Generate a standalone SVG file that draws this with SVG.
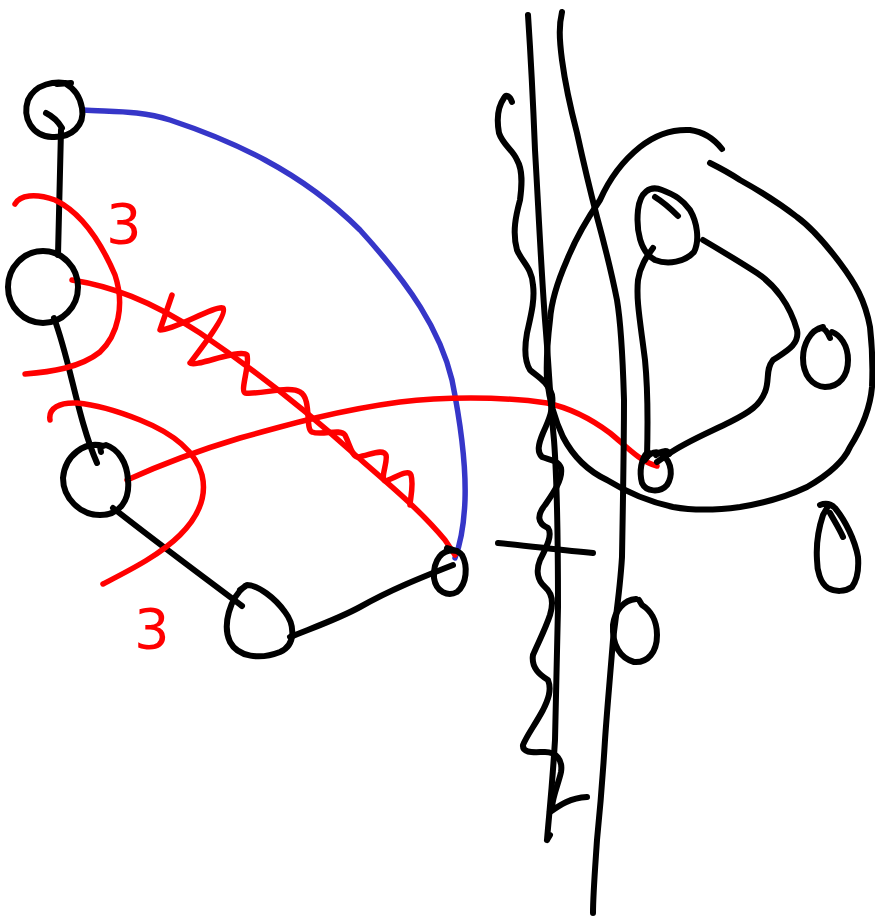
<svg xmlns="http://www.w3.org/2000/svg" width="875" height="922" viewBox="0 0 875 922">
<style>
.k{fill:none;stroke:#000;stroke-width:6;stroke-linecap:round;stroke-linejoin:round}
.r{fill:none;stroke:#ff0000;stroke-width:5.5;stroke-linecap:round;stroke-linejoin:round}
.b{fill:none;stroke:#3636c8;stroke-width:5.5;stroke-linecap:round;stroke-linejoin:round}
.lbl{font-family:"DejaVu Sans","Liberation Sans",sans-serif;font-size:56px;fill:#ff0000}
</style>
<rect width="875" height="922" fill="#fff"/>
<g id="connectors">
<path class="k" d="M61,130 C60,170 59,215 58,255"/>
<path class="k" d="M54,318 C70,360 78,420 97,463"/>
<path class="k" d="M113,508 C160,545 205,578 242,606"/>
<path class="k" d="M290,637 C320,625 340,618 360,607 C390,590 420,578 453,565"/>
<path class="b" d="M83,110 C110,112 140,110 170,120 C230,140 300,170 360,230 C410,285 440,330 452,380 C462,430 466,470 465,500 C464,525 460,545 455,558"/>
<path class="r" d="M15,204 C20,195 35,193 55,200 C80,212 100,240 115,275 C125,305 118,335 100,352 C80,368 50,372 25,374"/>
<path class="r" d="M72,280 C110,286 150,300 200,333 C250,367 300,405 353,453 C390,485 420,510 445,540 L455,555"/>
<path class="r" d="M172,295 L160,330 C175,330 215,305 223,308 C228,314 200,350 190,363 C194,368 240,348 247,355 C250,365 240,390 245,393 C260,395 290,385 300,392 C312,398 305,430 312,432 C322,436 340,428 345,435 C350,445 352,457 358,457 C370,455 383,448 386,455 C388,462 380,478 385,481 C392,480 408,468 411,475 C414,485 410,500 410,505"/>
<path class="r" d="M50,420 C48,408 60,402 77,403 C100,405 120,412 140,420 C170,432 195,450 202,475 C208,500 195,520 180,535 C160,555 130,570 103,584"/>
<path class="r" d="M127,480 C160,465 200,450 240,438 C290,424 340,410 400,402 C440,397 500,396 547,403 C570,408 590,418 610,433 C625,445 640,462 657,466"/>
<path class="k" d="M647,457 C648,420 648,390 645,360 C640,320 636,300 638,280 C640,265 648,255 653,248"/>
<path class="k" d="M703,240 C720,250 740,262 757,273 C775,285 790,305 797,330 C800,345 785,352 773,360 C765,370 770,380 765,392 C760,405 750,412 730,422 C710,432 685,442 667,455 L657,462"/>
</g>
<g id="node1"><path class="k" d="M70,84 C55,80 35,84 28,100 C22,118 32,136 52,137 C72,138 85,125 82,108 C80,96 75,89 66,84 M57,84 L71,83 M46,113 C52,116 58,121 62,128"/></g>
<g id="node2"><ellipse class="k" cx="43" cy="287" rx="35" ry="36"/></g>
<g id="node3"><path class="k" d="M103,446 C85,441 65,455 63,478 C63,498 80,515 100,515 C120,515 130,500 128,480 C127,462 118,449 106,445 L100,447 L101,452"/></g>
<g id="node4"><path class="k" d="M245,586 C230,598 222,625 230,642 C238,657 260,660 280,652 C296,645 295,625 285,612 C275,598 258,585 247,585 L240,590"/></g>
<g id="node5"><path class="k" d="M457,551 C442,548 433,560 434,578 C436,592 448,597 457,592 C467,584 468,566 462,555 C458,550 452,550 447,548"/></g>
<g id="labels">
<text class="lbl" x="106" y="243">3</text>
<text class="lbl" x="134" y="648">3</text>
</g>
<g id="right-sketch">
<path class="k" d="M528,15 C531,60 533,100 535,150 C538,200 541,267 545,320 C549,367 550,400 554,440 C557,480 558,540 558,607 C557,660 556,700 555,740 C552,790 549,815 547,840 M547,840 L550,835"/>
<path class="k" d="M562,12 C559,25 559,37 562,60 C566,90 571,110 577,133 C584,165 590,190 597,217 C606,250 613,280 617,300 C622,330 623,367 624,400 C624,440 623,500 622,557 C620,590 616,615 613,640 C609,690 607,710 605,740 C602,790 599,820 597,840 C595,870 593,895 593,913"/>
<path class="k" d="M512,102 C510,96 506,94 504,98 C497,108 497,122 499,133 C503,145 513,150 517,160 C523,170 522,185 520,200 C516,215 512,232 517,250 C522,262 532,268 533,285 C535,300 531,315 527,333 C524,350 525,362 530,370 C538,377 548,382 552,395 C554,408 549,420 543,433 C538,445 537,452 542,457 C550,460 558,460 561,468 C563,480 552,495 545,505 C537,515 537,523 548,528 C553,535 546,548 540,560 C536,570 537,580 545,587 C552,593 554,602 550,615 C545,630 538,643 533,655 C531,668 540,675 548,680 C552,690 548,700 543,710 C535,725 527,735 523,745 C522,754 535,752 545,752 C556,752 563,760 561,772 C559,782 553,795 552,807 M550,812 C560,805 570,798 587,797"/>
<path class="k" d="M498,543 C530,546 560,550 593,553"/>
<path class="k" d="M722,149 C715,140 705,132 690,130 C670,129 655,135 640,147 C620,163 608,182 600,200 C585,222 575,240 567,260 C556,285 551,305 550,320 C547,345 546,360 547,380 C550,405 556,422 563,437 C575,460 590,472 607,480 C628,493 650,502 673,507 C695,511 718,510 740,507 C765,503 788,496 807,487 C828,475 843,463 850,447 C862,428 870,410 872,387 C873,365 872,345 870,327 C865,300 855,283 840,263 C825,243 812,228 797,217 C775,200 758,190 740,180 C728,172 718,167 710,163"/>
<path class="k" d="M662,190 C650,185 640,192 638,210 C636,230 640,252 655,260 C668,265 685,262 694,252 C700,240 697,222 690,210 C683,200 675,195 662,190 M655,197 C663,202 672,210 678,216"/>
<path class="k" d="M648,452 C641,458 639,472 642,483 C646,492 660,493 667,485 C673,476 672,463 663,455 C657,450 650,452 645,460 M656,455 C662,450 668,450 669,454"/>
<path class="k" d="M823,327 C810,330 803,345 803,358 C803,375 812,386 825,387 C840,387 848,375 848,360 C848,345 840,335 832,332 M819,329 C824,326 828,333 830,338"/>
<path class="k" d="M636,599 C624,600 615,610 613,625 C612,645 620,658 634,662 C648,663 657,652 657,635 C657,620 650,610 642,605 L639,600"/>
<path class="k" d="M820,505 C825,503 830,503 835,508 C845,520 855,540 858,557 C859,570 857,580 852,587 C845,592 835,592 828,588 C820,583 817,570 817,560 C816,545 818,530 823,515 L827,508 M830,513 C835,522 840,530 843,537"/>
</g>
</svg>
